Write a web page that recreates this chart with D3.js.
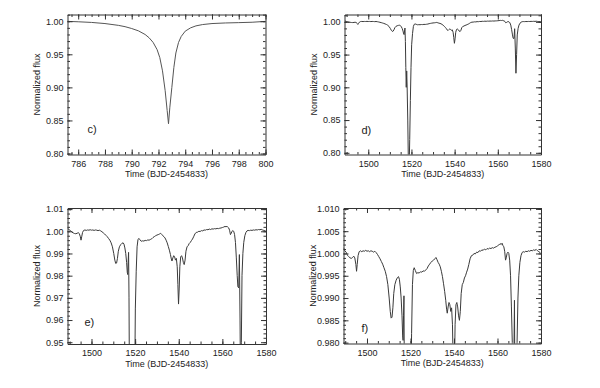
<!DOCTYPE html>
<html>
<head>
<meta charset="utf-8">
<script src="https://cdn.jsdelivr.net/npm/d3@7"></script>
<style>
  body { margin: 0; background: #fff; }
  svg { display: block; font-family: "Liberation Sans", Arial, Helvetica, sans-serif; }
  .axis text { font-size: 9px; fill: #222; }
  .axis path, .axis line { stroke: #333; stroke-width: 1; }
  .title { font-size: 9px; fill: #222; }
  .plabel { font-size: 11px; fill: #222; }
</style>
</head>
<body>
<svg width="600" height="388"></svg>
<script>
// panel c: single eclipse
var cTime = [785.2, 786, 787, 788, 789, 789.5, 790, 790.5, 791, 791.3, 791.6, 791.9, 792.1,
  792.3, 792.5, 792.65, 792.75, 792.85, 793.0, 793.15, 793.3, 793.5, 793.7, 794.0, 794.4,
  794.8, 795.3, 796, 797, 798, 799, 800];
var cFlux = [0.9998, 0.9992, 0.9982, 0.9965, 0.9938, 0.9918, 0.9890, 0.9855, 0.9800, 0.9750,
  0.9680, 0.9570, 0.9450, 0.9250, 0.8950, 0.8650, 0.8450, 0.8700, 0.9000, 0.9300, 0.9520,
  0.9680, 0.9770, 0.9850, 0.9900, 0.9930, 0.9950, 0.9965, 0.9974, 0.9979, 0.9985, 0.9998];

// panels d, e, f: same light curve at three vertical scales
var lcTime = [1489.2, 1489.8, 1490.4, 1491.0, 1491.6, 1492.2, 1492.8, 1493.4, 1493.9, 1494.4,
  1494.9, 1495.2, 1495.5, 1495.9, 1496.4, 1497.0, 1497.6, 1498.2, 1498.8, 1499.4,
  1500.0, 1500.6, 1501.2, 1501.8, 1502.4, 1503.0, 1503.6, 1504.2, 1504.8, 1505.4,
  1506.0, 1506.6, 1507.2, 1507.8, 1508.4, 1509.0, 1509.6, 1510.2, 1510.7, 1511.1,
  1511.5, 1511.9, 1512.3, 1512.8, 1513.4, 1514.0, 1514.5, 1514.9, 1515.3, 1515.7,
  1516.1, 1516.4, 1516.6, 1516.8, 1517.0, 1517.2, 1517.4, 1517.6, 1517.8, 1518.0,
  1518.3, 1518.6, 1518.9, 1519.2, 1519.5, 1519.8, 1520.1, 1520.5, 1520.9, 1521.3,
  1521.7, 1522.2, 1522.8, 1523.4, 1524.0, 1524.6, 1525.2, 1525.8, 1526.4, 1527.0,
  1527.6, 1528.2, 1528.8, 1529.4, 1530.0, 1530.6, 1531.2, 1531.7, 1532.2, 1532.7,
  1533.2, 1533.7, 1534.2, 1534.7, 1535.2, 1535.7, 1536.2, 1536.6, 1536.9, 1537.3,
  1537.7, 1538.1, 1538.5, 1538.9, 1539.3, 1539.6, 1539.9, 1540.2, 1540.5, 1540.9,
  1541.3, 1541.7, 1542.1, 1542.5, 1542.9, 1543.3, 1543.8, 1544.3, 1544.8, 1545.3,
  1545.8, 1546.3, 1546.8, 1547.4, 1548.0, 1548.6, 1549.2, 1549.8, 1550.4, 1551.0,
  1551.6, 1552.2, 1552.8, 1553.4, 1554.0, 1554.6, 1555.2, 1555.8, 1556.4, 1557.0,
  1557.6, 1558.2, 1558.8, 1559.4, 1560.0, 1560.6, 1561.2, 1561.7, 1562.1, 1562.5,
  1562.9, 1563.3, 1563.7, 1564.0, 1564.4, 1564.8, 1565.2, 1565.6, 1566.0, 1566.4,
  1566.8, 1567.1, 1567.5, 1567.8, 1568.1, 1568.4, 1568.7, 1569.0, 1569.4, 1569.8,
  1570.3, 1570.8, 1571.3, 1571.8, 1572.4, 1573.0, 1573.6, 1574.2, 1574.8, 1575.4,
  1576.0, 1576.6, 1577.2, 1577.8, 1578.4, 1579.0, 1579.6, 1580.0];
var lcFlux = [1.0013, 1.0006, 1.0003, 0.9996, 0.9993, 0.9990, 0.9989, 0.9991, 0.9994, 0.9990,
  0.9975, 0.9960, 0.9975, 0.9995, 1.0004, 1.0006, 1.0004, 1.0006, 1.0005, 1.0007,
  1.0005, 1.0006, 1.0004, 1.0006, 1.0005, 1.0003, 1.0005, 1.0002, 0.9998, 0.9993,
  0.9988, 0.9982, 0.9976, 0.9968, 0.9960, 0.9948, 0.9930, 0.9900, 0.9870, 0.9855,
  0.9857, 0.9878, 0.9910, 0.9930, 0.9940, 0.9946, 0.9948, 0.9942, 0.9925, 0.9900,
  0.9860, 0.9815, 0.9805, 0.9860, 0.9905, 0.9700, 0.9300, 0.9000, 0.9250, 0.9020,
  0.8500, 0.7800, 0.7700, 0.8200, 0.8800, 0.9300, 0.9650, 0.9820, 0.9930, 0.9962,
  0.9968, 0.9962, 0.9955, 0.9957, 0.9956, 0.9959, 0.9958, 0.9961, 0.9960, 0.9963,
  0.9966, 0.9972, 0.9976, 0.9980, 0.9983, 0.9985, 0.9988, 0.9991, 0.9986, 0.9980,
  0.9976, 0.9970, 0.9960, 0.9948, 0.9932, 0.9915, 0.9895, 0.9875, 0.9866, 0.9880,
  0.9890, 0.9885, 0.9870, 0.9878, 0.9840, 0.9760, 0.9672, 0.9740, 0.9840, 0.9885,
  0.9890, 0.9880, 0.9860, 0.9850, 0.9870, 0.9910, 0.9930, 0.9935, 0.9945, 0.9950,
  0.9958, 0.9965, 0.9975, 0.9988, 0.9995, 0.9996, 1.0000, 0.9999, 1.0003, 1.0002,
  1.0006, 1.0005, 1.0008, 1.0007, 1.0010, 1.0008, 1.0011, 1.0010, 1.0012, 1.0011,
  1.0013, 1.0012, 1.0014, 1.0015, 1.0017, 1.0019, 1.0022, 1.0020, 1.0023, 1.0018,
  1.0015, 1.0005, 0.9985, 0.9990, 1.0000, 1.0003, 1.0000, 0.9985, 0.9950, 0.9880,
  0.9800, 0.9750, 0.9745, 0.9895, 0.9600, 0.9215, 0.9500, 0.9800, 0.9900, 0.9950,
  0.9980, 0.9995, 1.0002, 1.0004, 1.0003, 1.0005, 1.0004, 1.0006, 1.0005, 1.0007,
  1.0006, 1.0008, 1.0007, 1.0009, 1.0006, 1.0004, 1.0002, 1.0000];

// tick labels
var cXTicks = [786, 788, 790, 792, 794, 796, 798, 800];
var lcXTicks = [1500, 1520, 1540, 1560, 1580];
var dYTicks = [0.80, 0.85, 0.90, 0.95, 1.00];
var eYTicks = [0.95, 0.96, 0.97, 0.98, 0.99, 1.00, 1.01];
var fYTicks = [0.980, 0.985, 0.990, 0.995, 1.000, 1.005, 1.010];
var panelNames = ["c)", "d)", "e)", "f)"];

var svg = d3.select("svg");

function drawPanel(p) {
  var x = d3.scaleLinear().domain(p.xDom).range([p.left, p.right]);
  var y = d3.scaleLinear().domain(p.yDom).range([p.bottom, p.top]);
  var g = svg.append("g");

  g.append("clipPath").attr("id", "clip" + p.id)
    .append("rect")
    .attr("x", p.left).attr("y", p.top)
    .attr("width", p.right - p.left).attr("height", p.bottom - p.top);

  var line = d3.line()
    .x(function(d) { return x(d[0]); })
    .y(function(d) { return y(d[1]); });

  g.append("path")
    .datum(d3.zip(p.t, p.f))
    .attr("clip-path", "url(#clip" + p.id + ")")
    .attr("d", line)
    .attr("fill", "none")
    .attr("stroke", p.stroke)
    .attr("stroke-width", 1);

  var xMinor = d3.range(Math.ceil(p.xDom[0] / p.xMinor) * p.xMinor, p.xDom[1] + 1e-9, p.xMinor);
  var yMinor = d3.range(Math.ceil(p.yDom[0] / p.yMinor - 1e-6) * p.yMinor, p.yDom[1] + 1e-9, p.yMinor);

  // major + labels
  g.append("g").attr("class", "axis")
    .attr("transform", "translate(0," + p.bottom + ")")
    .call(d3.axisBottom(x).tickValues(p.xTicks).tickSize(-5).tickSizeOuter(0)
      .tickPadding(6).tickFormat(d3.format("d")));
  g.append("g").attr("class", "axis")
    .attr("transform", "translate(" + p.left + ",0)")
    .call(d3.axisLeft(y).tickValues(p.yTicks).tickSize(-5).tickSizeOuter(0)
      .tickPadding(4).tickFormat(d3.format(p.yFmt)));
  g.append("g").attr("class", "axis")
    .attr("transform", "translate(0," + p.top + ")")
    .call(d3.axisTop(x).tickValues(p.xTicks).tickSize(-5).tickSizeOuter(0).tickFormat(""));
  g.append("g").attr("class", "axis")
    .attr("transform", "translate(" + p.right + ",0)")
    .call(d3.axisRight(y).tickValues(p.yTicks).tickSize(-5).tickSizeOuter(0).tickFormat(""));

  // minor ticks
  [["b", p.bottom], ["t", p.top]].forEach(function(s) {
    var ax = s[0] == "b" ? d3.axisBottom(x) : d3.axisTop(x);
    g.append("g").attr("class", "axis")
      .attr("transform", "translate(0," + s[1] + ")")
      .call(ax.tickValues(xMinor).tickSize(-2.5).tickFormat(""))
      .select(".domain").remove();
  });
  [["l", p.left], ["r", p.right]].forEach(function(s) {
    var ax = s[0] == "l" ? d3.axisLeft(y) : d3.axisRight(y);
    g.append("g").attr("class", "axis")
      .attr("transform", "translate(" + s[1] + ",0)")
      .call(ax.tickValues(yMinor).tickSize(-2.5).tickFormat(""))
      .select(".domain").remove();
  });

  g.append("text").attr("class", "title")
    .attr("x", (p.left + p.right) / 2).attr("y", p.bottom + 22.5)
    .attr("text-anchor", "middle")
    .text("Time (BJD-2454833)");
  g.append("text").attr("class", "title")
    .attr("transform", "translate(" + (p.left - 28) + "," + ((p.top + p.bottom) / 2) + ") rotate(-90)")
    .attr("text-anchor", "middle")
    .text("Normalized flux");
  g.append("text").attr("class", "plabel")
    .attr("x", p.left + p.lx).attr("y", p.ly)
    .text(p.name);
}

drawPanel({ id: "c", name: panelNames[0], t: cTime, f: cFlux, stroke: "#555",
  xDom: [785.2, 800], yDom: [0.7985, 1.0102], xTicks: cXTicks, yTicks: dYTicks,
  xMinor: 0.5, yMinor: 0.01, yFmt: ".2f",
  left: 67.5, right: 265.5, top: 14.5, bottom: 154.5, lx: 20, ly: 133 });
drawPanel({ id: "d", name: panelNames[1], t: lcTime, f: lcFlux, stroke: "#3a3a3a",
  xDom: [1489, 1580], yDom: [0.7974, 1.0112], xTicks: lcXTicks, yTicks: dYTicks,
  xMinor: 5, yMinor: 0.01, yFmt: ".2f",
  left: 344.5, right: 541, top: 14.5, bottom: 154.5, lx: 17, ly: 133.5 });
drawPanel({ id: "e", name: panelNames[2], t: lcTime, f: lcFlux, stroke: "#3a3a3a",
  xDom: [1489, 1580], yDom: [0.9492, 1.0105], xTicks: lcXTicks, yTicks: eYTicks,
  xMinor: 5, yMinor: 0.002, yFmt: ".2f",
  left: 67.5, right: 266, top: 208, bottom: 344, lx: 17, ly: 326 });
drawPanel({ id: "f", name: panelNames[3], t: lcTime, f: lcFlux, stroke: "#3a3a3a",
  xDom: [1489.2, 1580], yDom: [0.9798, 1.0102], xTicks: lcXTicks, yTicks: fYTicks,
  xMinor: 5, yMinor: 0.001, yFmt: ".3f",
  left: 343.5, right: 541, top: 208, bottom: 343.5, lx: 18, ly: 332 });
</script>
</body>
</html>
